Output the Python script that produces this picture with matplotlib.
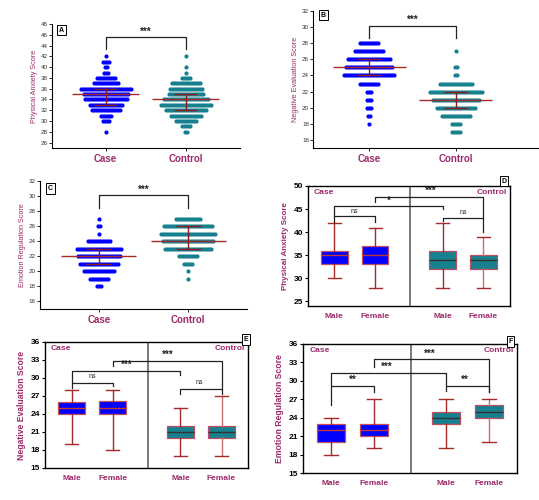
import numpy as np
import matplotlib.pyplot as plt

# ---- swarm panels: score levels and number of subjects per level ----
a_levels = [42, 41, 40, 39, 38, 37, 36, 35, 34, 33, 32, 31, 30, 29, 28]
a_case = [1, 4, 2, 3, 10, 13, 26, 23, 22, 17, 15, 6, 4, 0, 1]
a_ctrl = [1, 0, 1, 1, 5, 15, 17, 18, 23, 26, 21, 16, 11, 5, 2]
a_mid = [35, 34]
a_lo = [33, 32]
a_hi = [36, 35]

b_levels = [28, 27, 26, 25, 24, 23, 22, 21, 20, 19, 18, 17]
b_case = [10, 15, 22, 24, 26, 10, 3, 3, 3, 2, 1, 0]
b_ctrl = [0, 1, 0, 2, 2, 17, 27, 24, 20, 15, 5, 5]
b_mid = [25, 21]
b_lo = [24, 20]
b_hi = [26, 22]

c_levels = [27, 26, 25, 24, 23, 22, 21, 20, 19, 18]
c_case = [1, 2, 1, 12, 23, 22, 20, 16, 10, 3]
c_ctrl = [13, 25, 28, 26, 24, 10, 5, 1, 1, 0]
c_mid = [22, 24]
c_lo = [21, 23]
c_hi = [23, 26]

groups = ["Case", "Control"]

# ---- box panels: Case Male, Case Female, Control Male, Control Female ----
sex_labels = ["Male", "Female", "Male", "Female"]

d_wlo = [30, 28, 28, 28]
d_q1 = [33, 33, 32, 32]
d_med = [35, 35, 34, 34]
d_q3 = [36, 37, 36, 35]
d_whi = [42, 41, 42, 39]

e_wlo = [19, 18, 17, 17]
e_q1 = [24, 24, 20, 20]
e_med = [25, 25, 21, 21]
e_q3 = [26, 26.2, 22, 22]
e_whi = [28, 28, 25, 27]

f_wlo = [18, 19, 19, 20]
f_q1 = [20, 21, 23, 24]
f_med = [22, 22, 24, 25]
f_q3 = [23, 23, 25, 26]
f_whi = [24, 27, 27, 27]

BLUE = "#0000ff"
TEAL = "#17808f"
RED = "#a52a2a"
LAB = "#9c2a6a"

plt.rcParams['font.family'] = ['Liberation Sans', 'DejaVu Sans']

fig = plt.figure(figsize=(5.39, 5.0), dpi=100)


def panel_tag(ax, letter, x, y):
    ax.text(x, y, letter, transform=ax.transAxes, fontsize=5, fontweight='bold',
            ha='center', va='center', zorder=10,
            bbox=dict(boxstyle='square,pad=0.25', fc='white', ec='black', lw=0.7))


def bracket(ax, x1, x2, y, yl, yr, text, tx, ty, fs=7, weight='bold'):
    ax.plot([x1, x1, x2, x2], [yl, y, y, yr], color='#222222', lw=0.9, zorder=5)
    ax.text(tx, ty, text, ha='center', va='bottom', fontsize=fs,
            fontweight=weight, color='#222222', zorder=6)


def swarm(ax, rect, levels, case, ctrl, mid, lo, hi, ylim, yticks, ylabel,
          xlim, tag, tagpos, br):
    ax.set_position(rect)
    ax.set_xlim(*xlim)
    ax.set_ylim(*ylim)
    fig.canvas.draw()
    ppu = ax.transData.transform((1, 0))[0] - ax.transData.transform((0, 0))[0]
    step = 2.0 / ppu
    for gi, (counts, col) in enumerate([(case, BLUE), (ctrl, TEAL)]):
        for v, n in zip(levels, counts):
            if n == 0:
                continue
            xs = gi + (np.arange(n) - (n - 1) / 2) * step
            ax.scatter(xs, [v] * n, s=9, color=col, lw=0, zorder=2)
    xs = np.arange(2)
    ax.hlines(mid, xs - 0.42, xs + 0.42, color=RED, lw=1.0, zorder=3)
    ax.vlines(xs, lo, hi, color='#8b1a1a', lw=1.0, zorder=3)
    ax.hlines(lo, xs - 0.14, xs + 0.14, color='#8b1a1a', lw=1.0, zorder=3)
    ax.hlines(hi, xs - 0.14, xs + 0.14, color='#8b1a1a', lw=1.0, zorder=3)
    ax.set_xticks(xs)
    ax.set_xticklabels(groups, fontsize=7, fontweight='bold', color=LAB)
    ax.set_yticks(yticks)
    ax.tick_params(axis='y', labelsize=4.5, length=2, width=0.6, pad=1,
                   labelcolor='#333333')
    ax.tick_params(axis='x', length=2, width=0.6, pad=2)
    ax.set_ylabel(ylabel, fontsize=5.2, color=LAB, labelpad=2)
    for s in ['top', 'right']:
        ax.spines[s].set_visible(False)
    for s in ['left', 'bottom']:
        ax.spines[s].set_linewidth(0.8)
    panel_tag(ax, tag, *tagpos)
    bracket(ax, 0, 1, br[0], br[1], br[1], "***", 0.5, br[0] + 0.1)


def boxes(ax, rect, wlo, q1, med, q3, whi, ylim, yticks, ylabel, yfs, tag, tagpos):
    ax.set_position(rect)
    pos = [1, 2, 3.65, 4.65]
    stats = []
    for i in range(4):
        stats.append(dict(med=med[i], q1=q1[i], q3=q3[i], whislo=wlo[i],
                          whishi=whi[i], fliers=[]))
    art = ax.bxp(stats, positions=pos, widths=0.65, patch_artist=True,
                 showfliers=False,
                 boxprops=dict(lw=0.9, edgecolor='#c05060'),
                 whiskerprops=dict(color=RED, lw=1.0),
                 capprops=dict(color=RED, lw=1.0),
                 medianprops=dict(lw=1.0))
    for i, b in enumerate(art['boxes']):
        b.set_facecolor(BLUE if i < 2 else TEAL)
    for i, m in enumerate(art['medians']):
        m.set_color('#c0392b' if i < 2 else '#333333')
    for i, w in enumerate(art['whiskers']):
        if i >= 6:
            w.set_color('#c87070')
    ax.axvline(2.85, color='#555555', lw=1.1)
    ax.set_xlim(0.35, 5.3)
    ax.set_ylim(*ylim)
    ax.set_yticks(yticks)
    ax.set_xticks(pos)
    ax.set_xticklabels(sex_labels, fontsize=6, fontweight='bold', color=LAB)
    ax.tick_params(axis='x', length=0, pad=5)
    ax.tick_params(axis='y', labelsize=6, length=2.5, width=0.8, pad=1)
    for t in ax.get_yticklabels():
        t.set_fontweight('bold')
    ax.set_ylabel(ylabel, fontsize=yfs, fontweight='bold', color=LAB, labelpad=3)
    for s in ax.spines.values():
        s.set_linewidth(1.0)
    ax.text(0.03, 0.975, "Case", transform=ax.transAxes, fontsize=6,
            fontweight='bold', color=LAB, ha='left', va='top')
    ax.text(0.985, 0.975, "Control", transform=ax.transAxes, fontsize=6,
            fontweight='bold', color=LAB, ha='right', va='top')
    panel_tag(ax, tag, *tagpos)
    return pos


axA = fig.add_axes([0, 0, 1, 1])
swarm(axA, [0.0965, 0.704, 0.349, 0.248], a_levels, a_case, a_ctrl, a_mid,
      a_lo, a_hi, (25, 48), range(26, 49, 2), "Physical Anxiety Score",
      (-0.67, 1.68), "A", (0.05, 0.95), (45.5, 43.3))

axB = fig.add_axes([0, 0, 1, 1])
swarm(axB, [0.581, 0.704, 0.417, 0.274], b_levels, b_case, b_ctrl, b_mid,
      b_lo, b_hi, (15, 32), range(16, 33, 2), "Negative Evaluation Score",
      (-0.65, 1.95), "B", (0.045, 0.97), (30.2, 28.6))

axC = fig.add_axes([0, 0, 1, 1])
swarm(axC, [0.0742, 0.382, 0.384, 0.256], c_levels, c_case, c_ctrl, c_mid,
      c_lo, c_hi, (15, 32), range(16, 33, 2), "Emotion Regulation Score",
      (-0.66, 1.66), "C", (0.05, 0.94), (30.1, 28.4))

axD = fig.add_axes([0, 0, 1, 1])
p = boxes(axD, [0.571, 0.388, 0.375, 0.24], d_wlo, d_q1, d_med, d_q3, d_whi,
          (24, 50), range(25, 51, 5), "Physical Anxiety Score", 5.8, "D", (0.97, 1.04))
bracket(axD, p[0], p[1], 43.4, 42.3, 42.3, "ns", 1.5, 43.8, fs=5, weight='normal')
bracket(axD, p[0], p[2], 45.75, 43.4, 45.0, "*", 2.33, 45.8)
bracket(axD, p[1], p[3], 47.7, 46.6, 43.0, "***", 3.36, 47.8)
bracket(axD, p[2], p[3], 43.0, 42.4, 40.1, "ns", 4.15, 43.4, fs=5, weight='normal')

axE = fig.add_axes([0, 0, 1, 1])
p = boxes(axE, [0.0835, 0.064, 0.377, 0.252], e_wlo, e_q1, e_med, e_q3, e_whi,
          (15, 36), range(15, 37, 3), "Negative Evaluation Score", 6.2, "E", (0.99, 1.02))
bracket(axE, p[0], p[1], 29.2, 28.4, 28.6, "ns", 1.5, 29.6, fs=5, weight='normal')
bracket(axE, p[0], p[2], 31.2, 29.2, 30.5, "***", 2.35, 31.3)
bracket(axE, p[1], p[3], 32.9, 32.0, 28.2, "***", 3.34, 33.0)
bracket(axE, p[2], p[3], 28.2, 27.3, 27.3, "ns", 4.1, 28.6, fs=5, weight='normal')

axF = fig.add_axes([0, 0, 1, 1])
p = boxes(axF, [0.562, 0.054, 0.397, 0.258], f_wlo, f_q1, f_med, f_q3, f_whi,
          (15, 36), range(15, 37, 3), "Emotion Regulation Score", 6.2, "F", (0.97, 1.02))
bracket(axF, p[0], p[1], 29.1, 26.1, 28.25, "**", 1.5, 29.3)
bracket(axF, p[0], p[2], 31.25, 29.1, 29.3, "***", 2.3, 31.4)
bracket(axF, p[1], p[3], 33.5, 32.2, 28.25, "***", 3.29, 33.6)
bracket(axF, p[2], p[3], 29.1, 28.4, 28.25, "**", 4.1, 29.3)

fig.savefig("out.png", dpi=100)
